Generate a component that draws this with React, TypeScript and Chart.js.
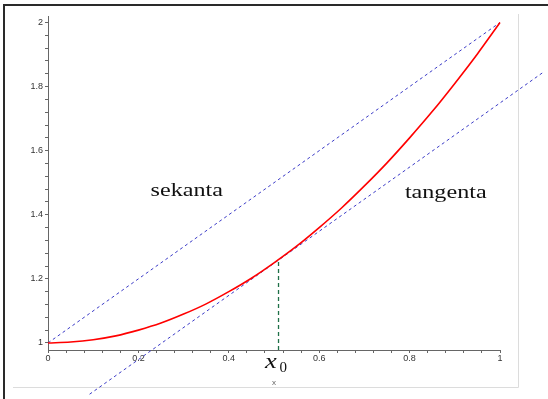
import React, { useEffect, useRef } from 'react';
import { Chart, registerables } from 'chart.js';
Chart.register(...registerables);

// ---- data ----
const curveX = [0, 0.05, 0.1, 0.15, 0.2, 0.25, 0.3, 0.35, 0.4, 0.45, 0.5, 0.55, 0.6, 0.65, 0.7, 0.75, 0.8, 0.85, 0.9, 0.95, 1];
const curveY = [1, 1.003, 1.01, 1.022, 1.04, 1.062, 1.09, 1.122, 1.16, 1.202, 1.25, 1.302, 1.36, 1.422, 1.49, 1.562, 1.64, 1.722, 1.81, 1.902, 2];
const secantX = [0, 1];
const secantY = [1, 2];
const tangentX = [0.092, 1.096];
const tangentY = [0.84, 1.845];
const dropX = [0.51, 0.51];
const dropY = [0.978, 1.258];
const xMajorTicks = [0, 0.2, 0.4, 0.6, 0.8, 1];
const xTickLabels = ['0', '0.2', '0.4', '0.6', '0.8', '1'];
const yMajorTicks = [1, 1.2, 1.4, 1.6, 1.8, 2];
const yTickLabels = ['1', '1.2', '1.4', '1.6', '1.8', '2'];
const textLabels = ['sekanta', 'tangenta'];
const pointLabel = 'x';
const pointSub = '0';
const axisTitle = 'x';

const pts = (xs: number[], ys: number[]) => xs.map((x, i) => ({ x, y: ys[i] }));

const withMinor = (majors: number[]) => {
  const out: number[] = [];
  for (let i = 0; i < majors.length; i++) {
    out.push(majors[i]);
    if (i < majors.length - 1) {
      const step = (majors[i + 1] - majors[i]) / 5;
      for (let k = 1; k < 5; k++) out.push(majors[i] + step * k);
    }
  }
  return out;
};

const labelFor = (majors: number[], labels: string[]) => (v: any) => {
  const idx = majors.findIndex((m) => Math.abs(m - Number(v)) < 1e-6);
  return idx >= 0 ? labels[idx] : '';
};

const decorPlugin = {
  id: 'decor',
  beforeDraw(chart: any) {
    const ctx = chart.ctx;
    ctx.save();
    ctx.fillStyle = '#ffffff';
    ctx.fillRect(0, 0, chart.width, chart.height);
    ctx.strokeStyle = '#dcdcdc';
    ctx.lineWidth = 1;
    ctx.beginPath();
    ctx.moveTo(518.5, 14);
    ctx.lineTo(518.5, 387.5);
    ctx.lineTo(13, 387.5);
    ctx.stroke();
    ctx.strokeStyle = '#2a2a2a';
    ctx.lineWidth = 2;
    ctx.beginPath();
    ctx.moveTo(4, chart.height);
    ctx.lineTo(4, 5);
    ctx.lineTo(chart.width, 5);
    ctx.stroke();
    ctx.restore();
  },
  afterDatasetsDraw(chart: any) {
    const ctx = chart.ctx;
    const xs = chart.scales.x;
    const ys = chart.scales.y;
    ctx.save();
    ctx.fillStyle = '#111111';
    ctx.textBaseline = 'alphabetic';
    const drawWide = (text: string, cx: number, by: number, font: string, sx: number) => {
      ctx.save();
      ctx.font = font;
      const w = ctx.measureText(text).width * sx;
      ctx.translate(cx - w / 2, by);
      ctx.scale(sx, 1);
      ctx.textAlign = 'left';
      ctx.fillText(text, 0, 0);
      ctx.restore();
    };
    drawWide(textLabels[0], xs.getPixelForValue(0.307), ys.getPixelForValue(1.459), "19px 'Liberation Serif'", 1.27);
    drawWide(textLabels[1], xs.getPixelForValue(0.88), ys.getPixelForValue(1.452), "19px 'Liberation Serif'", 1.27);
    const px = xs.getPixelForValue(dropX[0]);
    const bottom = chart.chartArea.bottom;
    ctx.save();
    ctx.font = "italic 22px 'Liberation Serif'";
    ctx.translate(px - 13.5, bottom + 18);
    ctx.scale(1.2, 1);
    ctx.textAlign = 'left';
    ctx.fillText(pointLabel, 0, 0);
    ctx.restore();
    ctx.font = "15px 'Liberation Serif'";
    ctx.textAlign = 'left';
    ctx.fillText(pointSub, px + 1, bottom + 22);
    ctx.restore();
  },
};

export default function App() {
  const ref = useRef<HTMLCanvasElement | null>(null);
  useEffect(() => {
    document.body.style.margin = '0';
    if (!ref.current) return;
    const tickFont = { family: "'Liberation Sans', Arial, sans-serif", size: 9 };
    const chart = new Chart(ref.current, {
      type: 'scatter',
      data: {
        datasets: [
          {
            data: pts(curveX, curveY),
            showLine: true,
            borderColor: '#ff0000',
            borderWidth: 1.6,
            pointRadius: 0,
            cubicInterpolationMode: 'monotone',
            clip: false,
          } as any,
          {
            data: pts(secantX, secantY),
            showLine: true,
            borderColor: '#3c3cc8',
            borderWidth: 1,
            borderDash: [3, 3],
            pointRadius: 0,
            clip: false,
          },
          {
            data: pts(tangentX, tangentY),
            showLine: true,
            borderColor: '#3c3cc8',
            borderWidth: 1,
            borderDash: [3, 3],
            pointRadius: 0,
            clip: false,
          },
          {
            data: pts(dropX, dropY),
            showLine: true,
            borderColor: '#1f7048',
            borderWidth: 1.3,
            borderDash: [4, 3],
            pointRadius: 0,
            clip: false,
          },
        ],
      },
      options: {
        animation: false,
        responsive: false,
        devicePixelRatio: 1,
        layout: { padding: { top: 16, right: 48, left: 0, bottom: 0 } },
        plugins: { legend: { display: false }, tooltip: { enabled: false } },
        scales: {
          x: {
            type: 'linear',
            min: 0,
            max: 1,
            afterBuildTicks: (s: any) => {
              s.ticks = withMinor(xMajorTicks).map((v) => ({ value: v }));
            },
            afterFit: (s: any) => {
              s.height = 49;
            },
            ticks: {
              autoSkip: false,
              maxRotation: 0,
              padding: 0,
              color: '#333333',
              font: tickFont,
              callback: labelFor(xMajorTicks, xTickLabels),
            },
            grid: { drawOnChartArea: false, drawTicks: true, tickLength: 3, color: '#666666' },
            border: { display: true, color: '#666666', width: 1 },
            title: {
              display: true,
              text: axisTitle,
              color: '#666666',
              font: { family: "'Liberation Sans', Arial, sans-serif", size: 8 },
              padding: { top: 0, bottom: 11 },
            },
          },
          y: {
            type: 'linear',
            min: 0.978,
            max: 2.0203,
            afterBuildTicks: (s: any) => {
              s.ticks = withMinor(yMajorTicks).map((v) => ({ value: v }));
            },
            afterFit: (s: any) => {
              s.width = 48;
            },
            ticks: {
              autoSkip: false,
              padding: 2,
              color: '#333333',
              font: tickFont,
              callback: labelFor(yMajorTicks, yTickLabels),
            },
            grid: { drawOnChartArea: false, drawTicks: true, tickLength: 3, color: '#666666' },
            border: { display: true, color: '#666666', width: 1 },
          },
        },
      } as any,
      plugins: [decorPlugin],
    });
    return () => chart.destroy();
  }, []);
  return (
    <div style={{ position: 'fixed', left: 0, top: 0, width: 548, height: 399 }}>
      <canvas ref={ref} width={548} height={399} style={{ width: 548, height: 399, display: 'block' }} />
    </div>
  );
}
